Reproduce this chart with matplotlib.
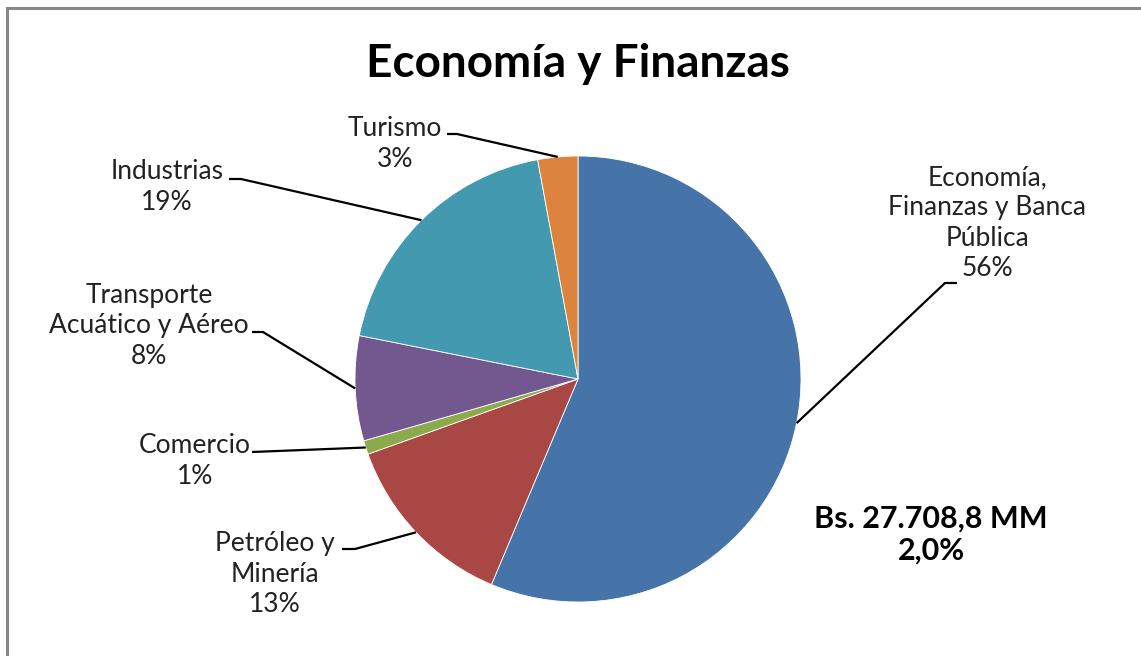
import numpy as np
import matplotlib.pyplot as plt
from matplotlib.patches import Rectangle

W, H = 1141, 656

sectores = ["Economía,\nFinanzas y Banca\nPública", "Petróleo y\nMinería", "Comercio",
            "Transporte\nAcuático y Aéreo", "Industrias", "Turismo"]
valores = [56.4, 13.2, 1.0, 7.6, 19.0, 2.9]
colores = ["#4674A9", "#A94744", "#8BAA4C", "#735890", "#4299B0", "#DC843E"]

titulo = "Economía y Finanzas"
monto = "Bs. 27.708,8 MM\n2,0%"

# posiciones de etiquetas (pixeles, origen arriba-izquierda)
lab_xy = [(987, 223), (275, 574), (195, 461), (149, 326), (167, 187), (395, 144)]
# inicio de la linea guia (lado del texto) y largo del tramo horizontal
guia_xy = [(957, 283), (342, 549), (252, 452), (252, 332), (229, 179), (447, 134)]
guia_dx = [-12, 13, 0, 11, 12, 10]

centro = (578, H - 379)
radio = 223

plt.rcParams['font.family'] = ['Lato', 'DejaVu Sans']

fig = plt.figure(figsize=(W / 100, H / 100), dpi=100)
ax = fig.add_axes([0, 0, 1, 1])

wedges, _ = ax.pie(valores, colors=colores, startangle=90, counterclock=False,
                   center=centro, radius=radio, frame=True,
                   wedgeprops=dict(edgecolor='white', linewidth=0.6))
ax.set_xlim(0, W)
ax.set_ylim(0, H)
ax.set_aspect('equal')
ax.axis('off')

fs = 19
for i, w in enumerate(wedges):
    txt = sectores[i] + "\n" + str(int(round(valores[i]))) + "%"
    x, y = lab_xy[i]
    ax.text(x, H - y, txt, ha='center', va='center', multialignment='center',
            fontsize=fs, color='#222222', linespacing=33 / (fs * 100 / 72))
    ang = np.deg2rad((w.theta1 + w.theta2) / 2)
    ex = centro[0] + radio * np.cos(ang)
    ey = centro[1] + radio * np.sin(ang)
    gx, gy = guia_xy[i]
    ax.plot([gx, gx + guia_dx[i], ex], [H - gy, H - gy, ey], color='black', lw=1.6,
            solid_capstyle='butt')

ax.text(578, H - 64, titulo, ha='center', va='center', fontsize=33,
        fontweight='bold', color='black')
ax.text(931, H - 535, monto, ha='center', va='center', multialignment='center',
        fontsize=22, fontweight='bold', color='black', linespacing=36 / (22 * 100 / 72))

fig.patches.append(Rectangle((7 / W, -0.1), 1.2, (H - 8) / H + 0.1,
                             transform=fig.transFigure, fill=False,
                             edgecolor='#868686', linewidth=2.2))

plt.savefig("out.png", dpi=100)
